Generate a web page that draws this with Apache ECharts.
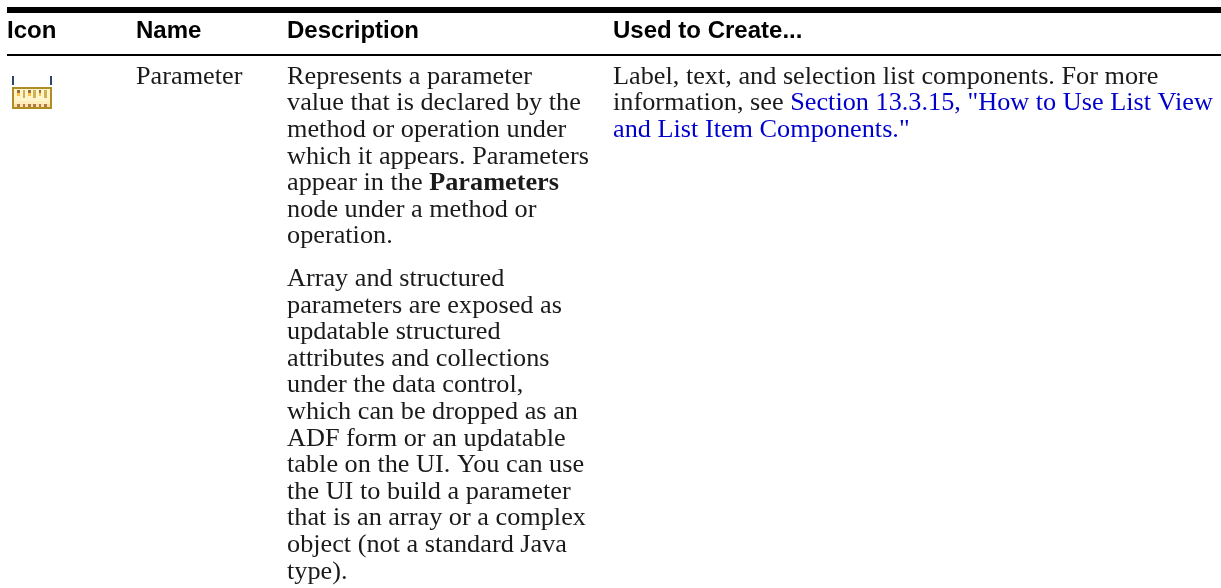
<!DOCTYPE html>
<html><head><meta charset="utf-8">
<style>html,body{margin:0;padding:0;background:#fff}#c{width:1221px;height:588px}</style>
<script src="https://cdn.jsdelivr.net/npm/echarts@6/dist/echarts.min.js"></script></head>
<body><div id="c"></div>
<script>
const headers = ['Icon','Name','Description','Used to Create...'];
const nameCell = ['Parameter'];
const descLines = [
 {row:0,t:[['Represents a parameter']]},
 {row:1,t:[['value that is declared by the']]},
 {row:2,t:[['method or operation under']]},
 {row:3,t:[['which it appears. Parameters']]},
 {row:4,t:[['appear in the '],['Parameters','b']]},
 {row:5,t:[['node under a method or']]},
 {row:6,t:[['operation.']]},
 {row:7.6,t:[['Array and structured']]},
 {row:8.6,t:[['parameters are exposed as']]},
 {row:9.6,t:[['updatable structured']]},
 {row:10.6,t:[['attributes and collections']]},
 {row:11.6,t:[['under the data control,']]},
 {row:12.6,t:[['which can be dropped as an']]},
 {row:13.6,t:[['ADF form or an updatable']]},
 {row:14.6,t:[['table on the UI. You can use']]},
 {row:15.6,t:[['the UI to build a parameter']]},
 {row:16.6,t:[['that is an array or a complex']]},
 {row:17.6,t:[['object (not a standard Java']]},
 {row:18.6,t:[['type).']]}
];
const usedLines = [
 {row:0,t:[['Label, text, and selection list components. For more']]},
 {row:1,t:[['information, see '],['Section 13.3.15, "How to Use List View','a']]},
 {row:2,t:[['and List Item Components."','a']]}
];
const colX = [7,136,287,613];
const top0 = 77, lh = 26.6, bodyScale = 1.01, bodyFont = 'Liberation Serif', bodySize = 26;

const g = [];
g.push({type:'rect',shape:{x:7,y:7,width:1214,height:6},style:{fill:'#000'}});
g.push({type:'rect',shape:{x:7,y:54,width:1214,height:2},style:{fill:'#000'}});
headers.forEach((h,i)=>g.push({type:'text',x:colX[i],y:31,style:{text:h,x:0,y:0,fill:'#000',font:'bold 24px "Liberation Sans"',verticalAlign:'middle',align:'left'}}));
const rich = {
 n:{fill:'#1a1a1a',font:bodySize+'px "'+bodyFont+'"'},
 a:{fill:'#0000cc',font:bodySize+'px "'+bodyFont+'"'},
 b:{fill:'#1a1a1a',font:'bold '+bodySize+'px "'+bodyFont+'"'}
};
function line(x,row,parts){
 g.push({type:'text',x:x,y:top0+row*lh,scaleX:bodyScale,style:{
  text:parts.map(p=>'{'+(p[1]||'n')+'|'+p[0]+'}').join(''),rich:rich,x:0,y:0,verticalAlign:'middle',align:'left'}});
}
line(colX[1],0,[[nameCell[0]]]);
descLines.forEach(l=>line(colX[2],l.row,l.t));
usedLines.forEach(l=>line(colX[3],l.row,l.t));

// icon
function r(x,y,w,h,c){g.push({type:'rect',shape:{x,y,width:w,height:h},style:{fill:c}});}
r(12,76,2,9,'#26476f'); r(50,76,2,9,'#26476f');
r(12,87,40,22,'#b08d20'); r(14,89,36,18,'#fff4cc');
r(14,101,36,3,'#ffeebb'); r(14,104,36,3,'#ffe2a4');
[17,28,39].forEach((x,i)=>{const w=i==2?2:3; r(x,90,w,3,'#9a6a3f'); r(x,93,w,3,'#ffc040');});
[23,33,44].forEach((x,i)=>{const w=i==0?2:3; r(x,90,w,8,'#cdb25a');});
[[17,3],[23,2],[28,3],[33,3],[39,2],[44,3]].forEach(a=>r(a[0],104,a[1],3,'#a87a4c'));

const chart = echarts.init(document.getElementById('c'),null,{renderer:'canvas'});
chart.setOption({animation:false,backgroundColor:'#fff',graphic:{elements:g}});
</script></body></html>
